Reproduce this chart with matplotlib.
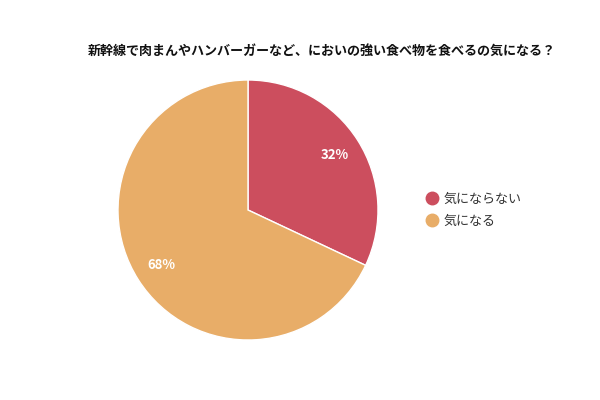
import matplotlib
matplotlib.use("Agg")
import matplotlib.pyplot as plt
from matplotlib.lines import Line2D

plt.rcParams['font.family'] = ['Noto Sans CJK JP', 'DejaVu Sans']

title = "新幹線で肉まんやハンバーガーなど、においの強い食べ物を食べるの気になる？"
labels = ["気にならない", "気になる"]
values = [32, 68]
colors = ["#CC4E5E", "#E8AD68"]

fig = plt.figure(figsize=(6, 4), dpi=100)
ax = fig.add_axes([248/600 - 130/600, 1 - (210 + 130)/400, 260/600, 260/400])
wedges, texts, autotexts = ax.pie(values, colors=colors, startangle=90, counterclock=False,
       autopct=lambda p: f"{p:.0f}%", pctdistance=0.79,
       wedgeprops=dict(edgecolor="white", linewidth=1),
       textprops=dict(color="white", fontsize=9.5, fontweight="bold"))
ax.set_aspect('equal')
ax.set_xlim(-1, 1); ax.set_ylim(-1, 1)

fig.text(322/600, 1 - 51/400, title, ha='center', va='center', fontsize=9.4, fontweight='bold', color='#111111')

handles = [Line2D([0], [0], marker='o', linestyle='', markersize=9, markerfacecolor=c, markeredgecolor=c) for c in colors]
fig.legend(handles, labels, loc='center left', bbox_to_anchor=(407/600, 1 - 210/400), frameon=False,
           fontsize=9.4, handletextpad=-0.1, labelspacing=0.7, labelcolor='#333333')

fig.savefig("out.png", dpi=100)
